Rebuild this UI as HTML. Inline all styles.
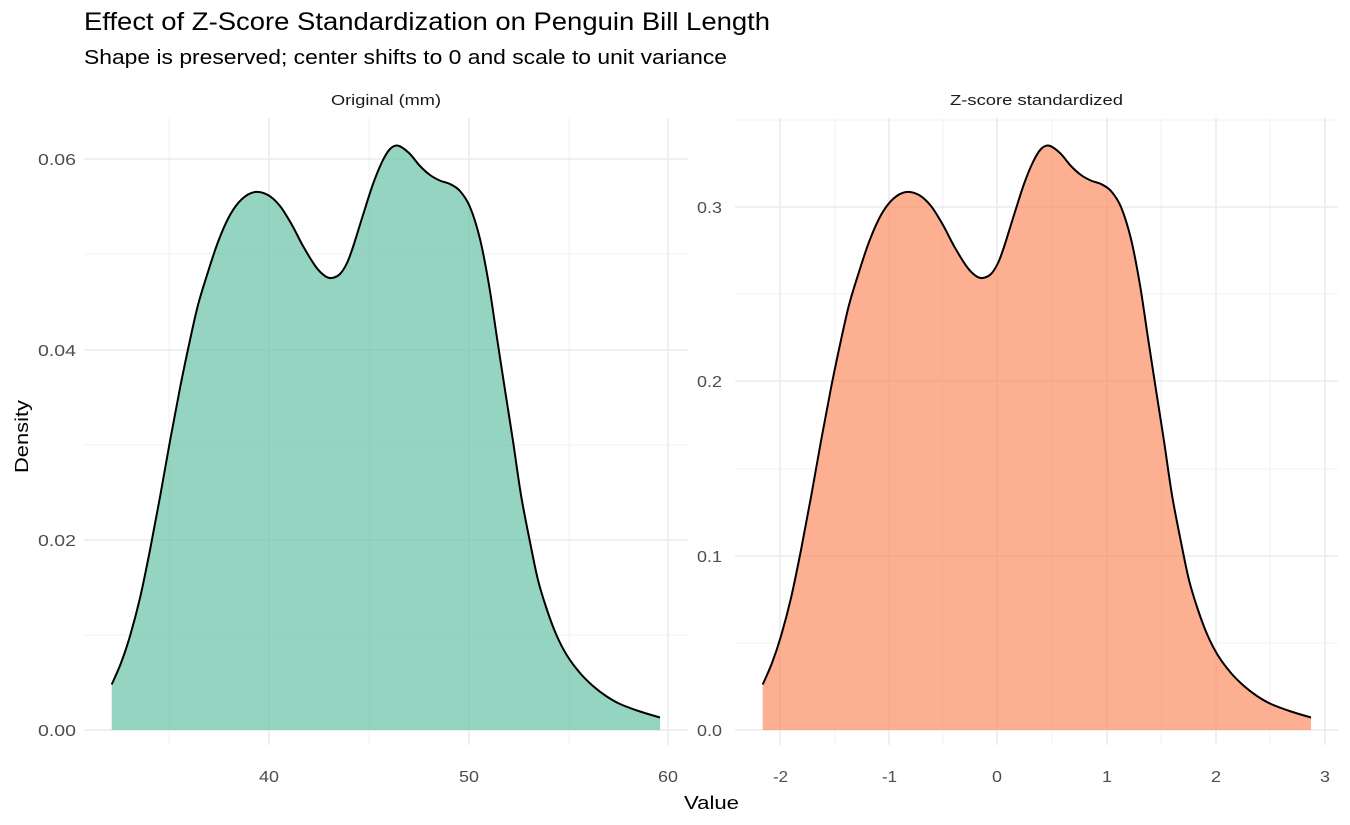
<!DOCTYPE html>
<html><head><meta charset="utf-8"><style>body{margin:0;background:#fff}svg{display:block}text{font-family:"Liberation Sans",Arial,sans-serif}</style></head><body>
<svg width="1350" height="825" viewBox="0 0 1350 825">
<g stroke="#f2f2f2" stroke-width="1">
<line x1="84" x2="688" y1="635" y2="635"/><line x1="84" x2="688" y1="445" y2="445"/><line x1="84" x2="688" y1="254" y2="254"/>
<line x1="169" x2="169" y1="118" y2="745"/><line x1="369" x2="369" y1="118" y2="745"/><line x1="569" x2="569" y1="118" y2="745"/>
<line x1="735" x2="1338" y1="643" y2="643"/><line x1="735" x2="1338" y1="469" y2="469"/><line x1="735" x2="1338" y1="294" y2="294"/><line x1="735" x2="1338" y1="120" y2="120"/>
<line x1="835" x2="835" y1="118" y2="745"/><line x1="943" x2="943" y1="118" y2="745"/><line x1="1052" x2="1052" y1="118" y2="745"/><line x1="1161" x2="1161" y1="118" y2="745"/><line x1="1270" x2="1270" y1="118" y2="745"/>
</g>
<g stroke="#ebebeb" stroke-width="1.6">
<line x1="84" x2="688" y1="730" y2="730"/><line x1="84" x2="688" y1="540" y2="540"/><line x1="84" x2="688" y1="350" y2="350"/><line x1="84" x2="688" y1="159" y2="159"/>
<line x1="269" x2="269" y1="118" y2="745"/><line x1="469" x2="469" y1="118" y2="745"/><line x1="668" x2="668" y1="118" y2="745"/>
<line x1="735" x2="1338" y1="730" y2="730"/><line x1="735" x2="1338" y1="556" y2="556"/><line x1="735" x2="1338" y1="381" y2="381"/><line x1="735" x2="1338" y1="207" y2="207"/>
<line x1="780" x2="780" y1="118" y2="745"/><line x1="889" x2="889" y1="118" y2="745"/><line x1="997" x2="997" y1="118" y2="745"/><line x1="1107" x2="1107" y1="118" y2="745"/><line x1="1216" x2="1216" y1="118" y2="745"/><line x1="1325" x2="1325" y1="118" y2="745"/>
</g>
<g><path id="f1" fill="#66c2a5" fill-opacity="0.7"/><path id="s1" fill="none" stroke="#000" stroke-width="2"/></g>
<g transform="translate(651,0)"><path id="f2" fill="#fc8d62" fill-opacity="0.7"/><path id="s2" fill="none" stroke="#000" stroke-width="2"/></g>
<text x="84" y="30" font-size="25" fill="#000" textLength="686" lengthAdjust="spacingAndGlyphs">Effect of Z-Score Standardization on Penguin Bill Length</text>
<text x="84" y="64" font-size="20" fill="#000" textLength="643" lengthAdjust="spacingAndGlyphs">Shape is preserved; center shifts to 0 and scale to unit variance</text>
<text x="331" y="105" font-size="15" fill="#1a1a1a" textLength="110" lengthAdjust="spacingAndGlyphs">Original (mm)</text>
<text x="950" y="105" font-size="15" fill="#1a1a1a" textLength="173" lengthAdjust="spacingAndGlyphs">Z-score standardized</text>
<g font-size="16" fill="#4d4d4d">
<text x="38" y="736" textLength="38" lengthAdjust="spacingAndGlyphs">0.00</text><text x="38" y="546" textLength="38" lengthAdjust="spacingAndGlyphs">0.02</text><text x="38" y="356" textLength="38" lengthAdjust="spacingAndGlyphs">0.04</text><text x="38" y="165" textLength="38" lengthAdjust="spacingAndGlyphs">0.06</text>
<text x="697" y="736" textLength="25" lengthAdjust="spacingAndGlyphs">0.0</text><text x="697" y="562" textLength="25" lengthAdjust="spacingAndGlyphs">0.1</text><text x="697" y="387" textLength="25" lengthAdjust="spacingAndGlyphs">0.2</text><text x="697" y="213" textLength="25" lengthAdjust="spacingAndGlyphs">0.3</text>
<text x="259" y="782" textLength="20" lengthAdjust="spacingAndGlyphs">40</text><text x="459" y="782" textLength="20" lengthAdjust="spacingAndGlyphs">50</text><text x="658" y="782" textLength="20" lengthAdjust="spacingAndGlyphs">60</text>
<text x="773" y="782" textLength="15" lengthAdjust="spacingAndGlyphs">-2</text><text x="882" y="782" textLength="15" lengthAdjust="spacingAndGlyphs">-1</text><text x="992" y="782" textLength="10" lengthAdjust="spacingAndGlyphs">0</text><text x="1102" y="782" textLength="10" lengthAdjust="spacingAndGlyphs">1</text><text x="1211" y="782" textLength="10" lengthAdjust="spacingAndGlyphs">2</text><text x="1320" y="782" textLength="10" lengthAdjust="spacingAndGlyphs">3</text>
</g>
<text x="684" y="809" font-size="18" fill="#000" textLength="55" lengthAdjust="spacingAndGlyphs">Value</text>
<text transform="translate(28,473) rotate(-90)" font-size="18" fill="#000" textLength="73" lengthAdjust="spacingAndGlyphs">Density</text>
</svg>
<script>
var p=[[111.7,684.5],[121,663],[130,636],[140,598],[150,550],[160,497],[170,441],[180,388],[190,340],[198,305],[206.7,276],[218,242],[230,215],[242,199],[255,192],[268,195],[280,206],[292,225],[303,246],[316,267],[325,276],[331.7,278],[340,274],[347,263],[353,247],[363,215],[373,184],[382,162],[390,149],[398,145.6],[409,153],[420,166],[430,175],[440,180.6],[450,184],[460,191],[470,207],[480,239],[489,285],[496.7,336],[505,390],[513,441],[521,495],[530,542],[538,580],[546.7,609],[556,634],[566.7,655],[580,673],[593,686],[606,696],[620,704],[640,711.5],[660,717.5]];
var d="M"+p[0][0]+","+p[0][1];
for(var i=0;i<p.length-1;i++){var a=p[i-1]||p[i],b=p[i],c=p[i+1],e=p[i+2]||c;
d+=" C"+(b[0]+(c[0]-a[0])/6)+","+(b[1]+(c[1]-a[1])/6)+" "+(c[0]-(e[0]-b[0])/6)+","+(c[1]-(e[1]-b[1])/6)+" "+c[0]+","+c[1];}
var f=d+" L660,730 L111.7,730 Z";
["1","2"].forEach(function(k){document.getElementById("f"+k).setAttribute("d",f);document.getElementById("s"+k).setAttribute("d",d);});
</script>
</body></html>
